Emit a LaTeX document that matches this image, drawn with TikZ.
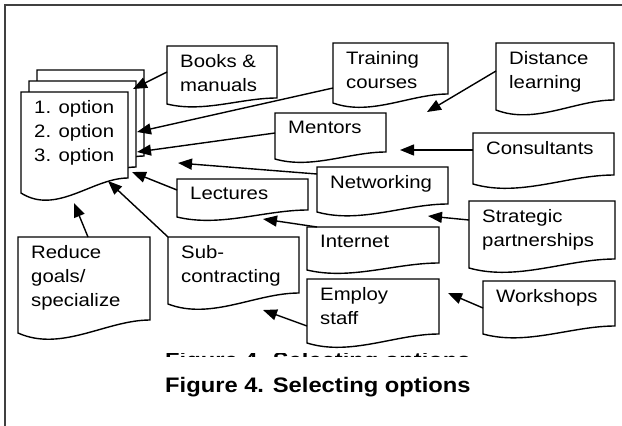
\documentclass[tikz,border=0pt]{standalone}
\usepackage{fontspec}
\setmainfont{Liberation Sans}[FakeStretch=1.13]
\usetikzlibrary{arrows.meta,calc}

\tikzset{
	frame/.style={line width=1.5pt, color=black!75},
	sheet/.style={line width=1.4pt, fill=white},
	docarea/.style={inner sep=0pt, outer sep=0pt, anchor=north west},
	doctext/.style={inner sep=0pt, anchor=north west, align=left, font=\fontsize{18}{24}\selectfont},
	feed/.style={line width=1.4pt, -{Triangle[length=14pt,width=11pt]}},
	caption/.style={inner sep=0pt, anchor=base west, font=\bfseries\fontsize{21}{25}\selectfont}
}

% #1 rise of the right corner, #2 name, #3 x, #4 y, #5 width, #6 height
\newcommand{\docsheet}[6][9]{
	\node[docarea, minimum width=#5pt, minimum height=#6pt] (#2) at (#3,#4) {};
	\draw[sheet] (#2.south west)
		.. controls ($(#2.south west)!.33!(#2.south east)+(0pt,-1.5*#1pt)$)
		and ($(#2.south west)!.67!(#2.south east)+(0pt,#1pt)$) .. ([yshift=#1pt]#2.south east)
		-- (#2.north east) -- (#2.north west) -- cycle;
}
% same, with its text
\newcommand{\docbox}[7][9]{
	\docsheet[#1]{#2}{#3}{#4}{#5}{#6}
	\node[doctext] (#2-text) at ([shift={(13pt,-8pt)}]#2.north west) {#7};
}

\begin{document}
\begin{tikzpicture}[x=1pt, y=-1pt]
	\useasboundingbox (0,0) rectangle (622,426);
	\draw[frame] (5,426) |- (622,5);

	% the options
	\docsheet[15]{backsheet}{37}{70}{107}{101}
	\docsheet[15]{midsheet}{29}{81}{107}{101}
	\docbox[15]{stack}{21}{92}{107}{101}{1. option\\2. option\\3. option}

	% the ways to get them
	\docbox[6]{books}{167}{46}{110}{58}{Books \&\\manuals}
	\docbox{training}{333}{43}{115}{60}{Training\\courses}
	\docbox[10]{distance}{496}{43}{118}{67}{Distance\\learning}
	\docbox[7]{mentors}{275}{113}{111}{46}{Mentors}
	\docbox{consultants}{473}{133}{141}{51}{Consultants}
	\docbox[8]{networking}{317}{167}{131}{45}{Networking}
	\docbox[7]{lectures}{177}{179}{131}{38}{Lectures}
	\docbox{strategic}{469}{201}{146}{67}{Strategic\\partnerships}
	\docbox[7]{internet}{307}{227}{132}{43}{Internet}
	\docbox[11]{subcontract}{168}{237}{131}{67}{Sub-\\contracting}
	\docbox[13]{reduce}{18}{237}{132}{96}{Reduce\\goals/\\specialize}
	\docbox{employ}{307}{279}{132}{64}{Employ\\staff}
	\docbox[8]{workshops}{483}{281}{132}{53}{Workshops}

	\coordinate (distance-in) at (427,112);
	\coordinate (consultants-in) at (400,150);
	\coordinate (networking-in) at (178,163);
	\coordinate (internet-in) at (263,219);
	\coordinate (strategic-in) at (428,216);
	\coordinate (employ-in) at (263,310);
	\coordinate (workshops-in) at (448,293);

	\draw[feed] ([yshift=-26pt]books.north west) -- ([shift={(5pt,3pt)}]stack.north east);
	\draw[feed] ([yshift=-45pt]training.north west) -- ([shift={(1pt,-51pt)}]midsheet.north east);
	\draw[feed] ([yshift=-20pt]mentors.north west) -- ([shift={(1pt,-71pt)}]midsheet.north east);
	\draw[feed] ([yshift=-28pt]distance.north west) -- (distance-in);
	\draw[feed] ([yshift=-17pt]consultants.north west) -- (consultants-in);
	\draw[feed] ([yshift=-7pt]networking.north west) -- (networking-in);
	\draw[feed] ([yshift=-11pt]lectures.north west) -- ([shift={(4pt,-80pt)}]stack.north east);
	\draw[feed] (subcontract.north west) -- ([shift={(-20pt,12pt)}]stack.south east);
	\draw[feed] ([xshift=70pt]reduce.north west) -- ([shift={(53pt,-10pt)}]stack.south west);
	\draw[feed] ([xshift=10pt]internet.north west) -- (internet-in);
	\draw[feed] ([yshift=-19pt]strategic.north west) -- (strategic-in);
	\draw[feed] ([yshift=-47pt]employ.north west) -- (employ-in);
	\draw[feed] ([yshift=-27pt]workshops.north west) -- (workshops-in);

	\node[caption] (caption) at (165,392) {Figure 4. Selecting options};
	\begin{scope}
		\clip (150,353) rectangle (480,356);
		\node[caption] (oldcaption) at (165,367.5) {Figure 4. Selecting options};
	\end{scope}
\end{tikzpicture}
\end{document}
